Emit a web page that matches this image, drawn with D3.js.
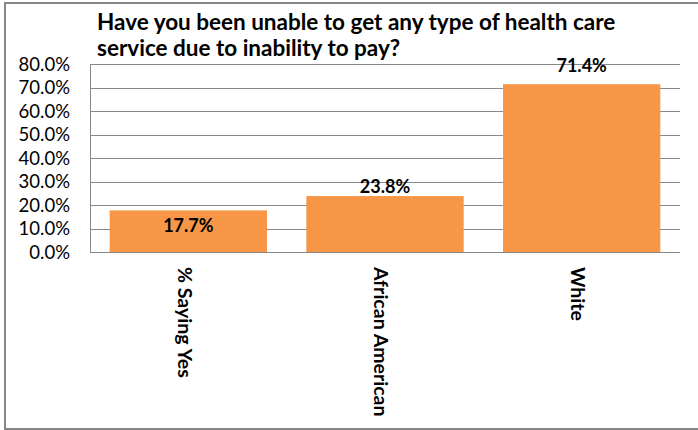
<!DOCTYPE html>
<html>
<head>
<meta charset="utf-8">
<script src="https://cdn.jsdelivr.net/npm/d3@7"></script>
<style>
  html, body { margin: 0; padding: 0; background: #fff; }
  svg { display: block; }
  text { font-family: Lato, "Open Sans", sans-serif; fill: #000; }
</style>
</head>
<body>
<svg id="chart" width="698" height="430"></svg>
<script>
// Survey responses: share unable to get care due to inability to pay
const categories = ["% Saying Yes", "African American", "White"];
const values = [17.7, 23.8, 71.4];
const yTicks = [0, 10, 20, 30, 40, 50, 60, 70, 80];
const titleLines = [
  "Have you been unable to get any type of health care",
  "service due to inability to pay?"
];

const svg = d3.select("#chart");
const W = 698, H = 430;
const plot = { left: 90, right: 680, top: 64, bottom: 252 };

// chart frame
svg.append("path")
  .attr("d", `M${W + 2},3 H5 V429 H${W + 2}`)
  .attr("fill", "none")
  .attr("stroke", "#868686")
  .attr("stroke-width", 2);

const x = d3.scaleBand()
  .domain(categories)
  .range([plot.left, plot.right])
  .paddingInner(0.2)
  .paddingOuter(0.1);

const y = d3.scaleLinear()
  .domain([0, 80])
  .range([plot.bottom, plot.top]);

// gridlines
svg.append("g")
  .selectAll("line")
  .data(yTicks)
  .join("line")
  .attr("x1", plot.left)
  .attr("x2", plot.right)
  .attr("y1", d => Math.round(y(d)) + 0.5)
  .attr("y2", d => Math.round(y(d)) + 0.5)
  .attr("stroke", "#888")
  .attr("stroke-width", 1);

// vertical axis line
svg.append("line")
  .attr("x1", plot.left + 0.5).attr("x2", plot.left + 0.5)
  .attr("y1", plot.top).attr("y2", plot.bottom)
  .attr("stroke", "#888");

// y axis
const yAxis = d3.axisLeft(y)
  .tickValues(yTicks)
  .tickSize(0)
  .tickPadding(20)
  .tickFormat(d => d.toFixed(1) + "%");
const gy = svg.append("g")
  .attr("transform", `translate(${plot.left},0)`)
  .call(yAxis);
gy.select(".domain").remove();
gy.selectAll("text")
  .attr("font-size", 18.5)
  .attr("dy", "0.35em")
  .style("font-family", "Lato, sans-serif");

// bars
svg.append("g")
  .selectAll("rect")
  .data(values)
  .join("rect")
  .attr("x", (d, i) => x(categories[i]))
  .attr("width", x.bandwidth())
  .attr("y", d => y(d))
  .attr("height", d => y(0) - y(d))
  .attr("fill", "#F79646");

// value labels (first sits inside its bar)
const labelShift = [22, -3, -12];
svg.append("g")
  .selectAll("text")
  .data(values)
  .join("text")
  .attr("x", (d, i) => x(categories[i]) + x.bandwidth() / 2)
  .attr("y", (d, i) => y(d) + labelShift[i])
  .attr("text-anchor", "middle")
  .attr("font-size", 18)
  .attr("font-weight", "bold")
  .text(d => d.toFixed(1) + "%");

// category labels, rotated to read downward
svg.append("g")
  .selectAll("text")
  .data(categories)
  .join("text")
  .attr("transform", d => `translate(${x(d) + x.bandwidth() / 2 - 4},267) rotate(90)`)
  .attr("dy", "0.35em")
  .attr("font-size", 19.5)
  .attr("font-weight", "bold")
  .text(d => d);

// title
svg.append("g")
  .selectAll("text")
  .data(titleLines)
  .join("text")
  .attr("x", 97)
  .attr("y", (d, i) => 30 + i * 26)
  .attr("font-size", 22.5)
  .attr("font-weight", "bold")
  .text(d => d);
</script>
</body>
</html>
